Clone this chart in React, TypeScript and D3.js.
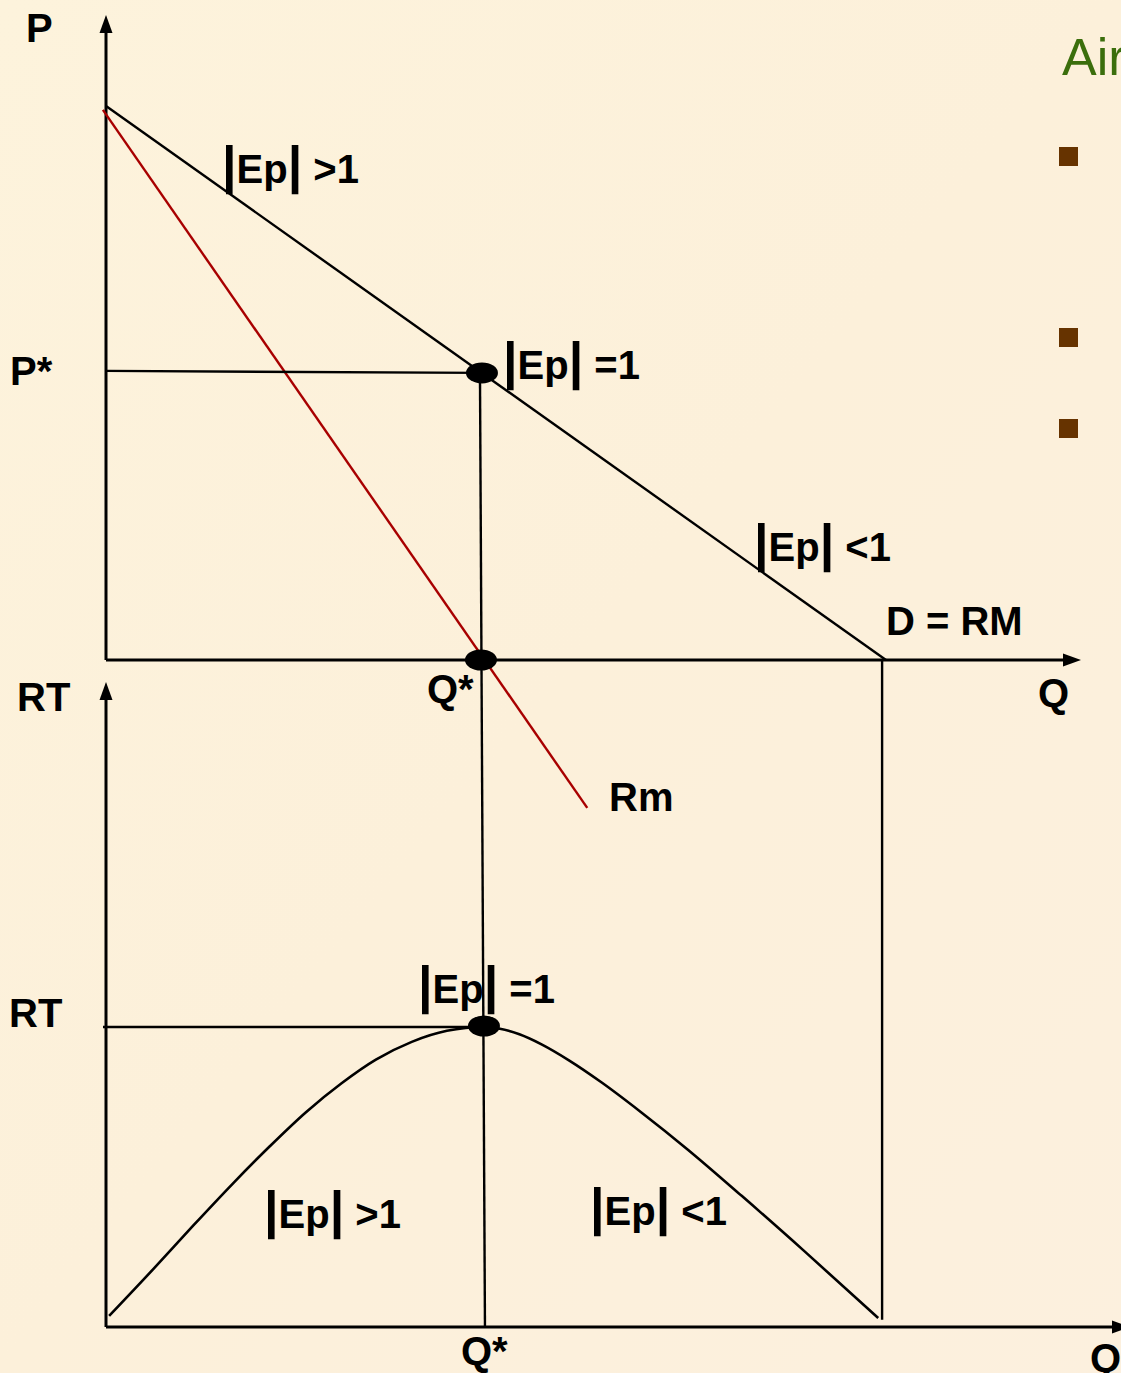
import React from "react";
import * as d3 from "d3";

// ---- data ----
const demandPts: [number, number][] = [[0, 10], [10, 0]]; // Q, P  (D = RM)
const rmPts: [number, number][] = [[-0.04, 9.93], [6.17, -2.67]]; // marginal revenue
const qStar = 4.82;
const pStar = 5.2;
const rtMax = 25;
const rtQ = [0.04, 0.6, 1.12, 1.62, 2.1, 2.56, 3.02, 3.46, 3.92, 4.37, 4.85, 5.05, 5.3, 5.59, 5.94, 6.36, 6.86, 7.46, 8.15, 8.96, 9.9];
const rtV = [0.92, 4.78, 8.46, 11.91, 15.06, 17.88, 20.31, 22.28, 23.76, 24.68, 25, 24.86, 24.39, 23.53, 22.2, 20.35, 17.9, 14.78, 10.93, 6.28, 0.75];
const bulletRows = [147, 328, 419];

const FONT = "'Liberation Sans', Arial, sans-serif";
const FS = 40;
const BAR = 52;

function EpLabel({ x, y, rel }: { x: number; y: number; rel: string }) {
  return (
    <text x={x} y={y} fontFamily={FONT} fontWeight="bold" fill="#000">
      <tspan fontSize={BAR}>|</tspan>
      <tspan fontSize={FS}>Ep</tspan>
      <tspan fontSize={BAR}>|</tspan>
      <tspan fontSize={FS}>{" " + rel}</tspan>
    </text>
  );
}

export default function App() {
  const W = 1121, H = 1373;
  const xQ = d3.scaleLinear().domain([0, 10]).range([106, 886]);
  const yP = d3.scaleLinear().domain([0, 10]).range([660, 106]);
  const yRT = d3.scaleLinear().domain([0, rtMax]).range([1327, 1027]);

  const lineP = d3.line<[number, number]>().x(d => xQ(d[0])).y(d => yP(d[1]));
  const rtData = rtQ.map((q, i) => [q, rtV[i]] as [number, number]);
  const lineRT = d3.line<[number, number]>().x(d => xQ(d[0])).y(d => yRT(d[1])).curve(d3.curveMonotoneX);

  const ax0 = xQ(0);
  const arrowUp = (x: number, tip: number) => `M${x},${tip} L${x - 6.5},${tip + 18} L${x + 6.5},${tip + 18} Z`;
  const arrowRight = (tip: number, y: number) => `M${tip},${y} L${tip - 18},${y - 6.5} L${tip - 18},${y + 6.5} Z`;

  const bold = { fontFamily: FONT, fontWeight: "bold" as const, fontSize: FS, fill: "#000" };

  return (
    <svg width={W} height={H} style={{ position: "absolute", left: 0, top: 0, display: "block" }}>
      <defs>
        <linearGradient id="bg" x1="0" y1="0" x2="1" y2="1">
          <stop offset="0" stopColor="#fdf3dc" />
          <stop offset="0.5" stopColor="#fcf0da" />
          <stop offset="1" stopColor="#fcf0de" />
        </linearGradient>
      </defs>
      <rect x={0} y={0} width={W} height={H} fill="url(#bg)" />

      {/* side decoration */}
      <text x={1062} y={75} fontFamily={FONT} fontSize={52} fill="#3b6e0c">Air</text>
      {bulletRows.map((y, i) => (
        <rect key={i} x={1059} y={y} width={19} height={19} fill="#663300" />
      ))}

      {/* ---- top panel ---- */}
      <line x1={ax0} y1={yP(0)} x2={ax0} y2={30} stroke="#000" strokeWidth={3} />
      <path d={arrowUp(ax0, 15)} fill="#000" />
      <line x1={ax0} y1={yP(0)} x2={1065} y2={yP(0)} stroke="#000" strokeWidth={3} />
      <path d={arrowRight(1081, yP(0))} fill="#000" />

      <path d={lineP(demandPts) || ""} fill="none" stroke="#000" strokeWidth={2.4} />
      <path d={lineP(rmPts) || ""} fill="none" stroke="#a80000" strokeWidth={2.4} />

      <line x1={ax0} y1={yP(pStar) - 1} x2={xQ(qStar)} y2={yP(pStar) + 1} stroke="#000" strokeWidth={2.4} />
      <line x1={xQ(qStar) - 2} y1={yP(pStar)} x2={xQ(qStar) + 3} y2={yRT(0)} stroke="#000" strokeWidth={2.4} />
      <line x1={xQ(9.95)} y1={yP(0)} x2={xQ(9.95)} y2={yRT(0.6)} stroke="#000" strokeWidth={2.4} />

      <ellipse cx={xQ(qStar)} cy={yP(pStar) + 1} rx={16} ry={10.5} fill="#000" />
      <ellipse cx={xQ(qStar) - 1} cy={yP(0)} rx={16} ry={10.5} fill="#000" />

      {/* ---- bottom panel ---- */}
      <line x1={ax0} y1={yRT(0)} x2={ax0} y2={697} stroke="#000" strokeWidth={3} />
      <path d={arrowUp(ax0, 682)} fill="#000" />
      <line x1={ax0} y1={yRT(0)} x2={1121} y2={yRT(0)} stroke="#000" strokeWidth={3} />
      <path d={arrowRight(1130, yRT(0))} fill="#000" />

      <line x1={ax0 - 3} y1={yRT(rtMax)} x2={xQ(qStar)} y2={yRT(rtMax)} stroke="#000" strokeWidth={2.4} />
      <path d={lineRT(rtData) || ""} fill="none" stroke="#000" strokeWidth={2.6} />
      <ellipse cx={xQ(qStar) + 2} cy={yRT(rtMax) - 1} rx={16} ry={10.5} fill="#000" />

      {/* ---- labels ---- */}
      <text x={26} y={42} {...bold}>P</text>
      <text x={10} y={385} {...bold}>P*</text>
      <text x={17} y={711} {...bold}>RT</text>
      <text x={9} y={1027} {...bold}>RT</text>
      <text x={427} y={703} {...bold}>Q*</text>
      <text x={1038} y={707} {...bold}>Q</text>
      <text x={461} y={1365} {...bold}>Q*</text>
      <text x={1090} y={1372} {...bold}>Q</text>
      <text x={886} y={635} {...bold}>D = RM</text>
      <text x={609} y={811} {...bold}>Rm</text>

      <EpLabel x={222} y={183} rel=">1" />
      <EpLabel x={503} y={379} rel="=1" />
      <EpLabel x={754} y={561} rel="<1" />
      <EpLabel x={418} y={1003} rel="=1" />
      <EpLabel x={264} y={1228} rel=">1" />
      <EpLabel x={590} y={1225} rel="<1" />
    </svg>
  );
}
